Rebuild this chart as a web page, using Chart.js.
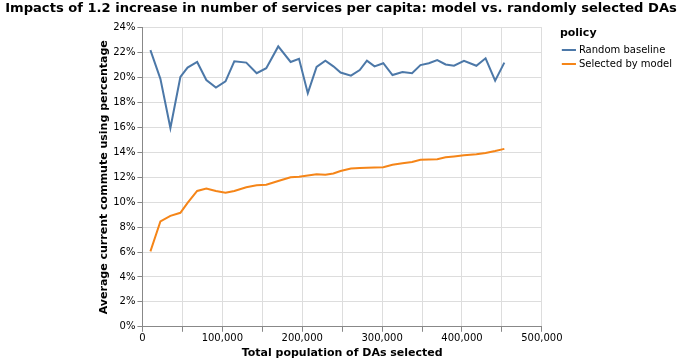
<!DOCTYPE html>
<html>
<head>
<meta charset="utf-8">
<script src="https://cdn.jsdelivr.net/npm/chart.js@4.4.1/dist/chart.umd.min.js"></script>
<style>
  html, body { margin: 0; padding: 0; background: #fff; }
  #wrap { width: 682px; height: 364px; position: relative; }
</style>
</head>
<body>
<div id="wrap"><canvas id="myChart"></canvas></div>
<script>
// total population of DAs selected (x positions)
var population = [10000, 22500, 35000, 47500, 56500, 68500, 80000, 92000, 104000, 115000,
  130000, 143000, 155000, 170000, 185500, 196000, 207000, 218000, 229000, 239000,
  248000, 261000, 272000, 281000, 290500, 301500, 313000, 325500, 337500, 348000,
  358500, 369000, 379500, 390000, 402500, 418000, 429500, 441500, 453000];

// average commute percentage
var randomBaseline = [22.2, 19.9, 15.95, 20.05, 20.8, 21.25, 19.8, 19.2, 19.7, 21.3,
  21.2, 20.35, 20.75, 22.5, 21.25, 21.5, 18.75, 20.85, 21.35, 20.9,
  20.4, 20.15, 20.6, 21.35, 20.9, 21.15, 20.2, 20.45, 20.35, 21.0,
  21.15, 21.4, 21.05, 20.95, 21.35, 20.95, 21.55, 19.75, 21.2];
var selectedByModel = [6.05, 8.45, 8.9, 9.15, 9.95, 10.9, 11.1, 10.9, 10.75, 10.9,
  11.2, 11.35, 11.4, 11.7, 12.0, 12.05, 12.15, 12.25, 12.2, 12.3,
  12.5, 12.7, 12.75, 12.77, 12.78, 12.8, 13.0, 13.12, 13.22, 13.4,
  13.42, 13.45, 13.6, 13.67, 13.76, 13.85, 13.95, 14.1, 14.28];

var seriesNames = ['Random baseline', 'Selected by model'];

function toPoints(ys) {
  return ys.map(function (y, i) { return { x: population[i], y: y }; });
}

// make the legend box wider and push its content away from the plot
var legendOffset = {
  id: 'legendOffset',
  beforeInit: function (chart) {
    var fit = chart.legend.fit;
    chart.legend.fit = function () {
      fit.bind(chart.legend)();
      this.width += 18;
    };
  },
  afterLayout: function (chart) {
    chart.legend.left += 18;
    chart.legend.right += 18;
  }
};

Chart.defaults.font.family = '"DejaVu Sans", sans-serif';
Chart.defaults.color = '#000';

var ctx = document.getElementById('myChart').getContext('2d');
var myChart = new Chart(ctx, {
  type: 'line',
  data: {
    datasets: [{
      label: seriesNames[0],
      data: toPoints(randomBaseline),
      borderColor: '#4c78a8',
      backgroundColor: '#4c78a8',
      borderWidth: 2,
      pointRadius: 0,
      tension: 0
    }, {
      label: seriesNames[1],
      data: toPoints(selectedByModel),
      borderColor: '#f58518',
      backgroundColor: '#f58518',
      borderWidth: 2,
      pointRadius: 0,
      tension: 0
    }]
  },
  options: {
    responsive: true,
    maintainAspectRatio: false,
    animation: false,
    layout: { padding: { left: 0, right: 0, top: 0, bottom: 0 } },
    plugins: {
      title: {
        display: true,
        text: 'Impacts of 1.2 increase in number of services per capita: model vs. randomly selected DAs',
        font: { size: 13.1, weight: 'bold' },
        color: '#000',
        padding: { top: 1, bottom: 11 }
      },
      legend: {
        position: 'right',
        align: 'start',
        fullSize: false,
        title: {
          display: true,
          text: 'policy',
          position: 'start',
          font: { size: 11, weight: 'bold' },
          color: '#000',
          padding: { top: 0, bottom: 0 }
        },
        labels: {
          usePointStyle: true,
          pointStyle: 'line',
          boxWidth: 10,
          font: { size: 10 },
          color: '#000',
          padding: 4
        }
      },
      tooltip: { enabled: false }
    },
    scales: {
      x: {
        type: 'linear',
        min: 0,
        max: 500000,
        grid: { color: '#ddd', tickLength: 5, tickColor: '#888' },
        border: { color: '#888' },
        ticks: {
          stepSize: 50000,
          autoSkip: false,
          maxRotation: 0,
          font: { size: 10 },
          color: '#000',
          padding: 1,
          callback: function (v) { return v % 100000 === 0 ? v.toLocaleString('en-US') : ''; }
        },
        title: {
          display: true,
          text: 'Total population of DAs selected',
          font: { size: 11, weight: 'bold' },
          color: '#000',
          padding: { top: 1, bottom: 4 }
        }
      },
      y: {
        min: 0,
        max: 24,
        grid: { color: '#ddd', tickLength: 5, tickColor: '#888' },
        border: { color: '#888' },
        ticks: {
          stepSize: 2,
          font: { size: 10 },
          color: '#000',
          padding: 2,
          callback: function (v) { return v + '%'; }
        },
        title: {
          display: true,
          text: 'Average current commute using percentage',
          font: { size: 11, weight: 'bold' },
          color: '#000',
          padding: { top: 98, bottom: 0 }
        }
      }
    }
  },
  plugins: [legendOffset]
});
</script>
</body>
</html>
